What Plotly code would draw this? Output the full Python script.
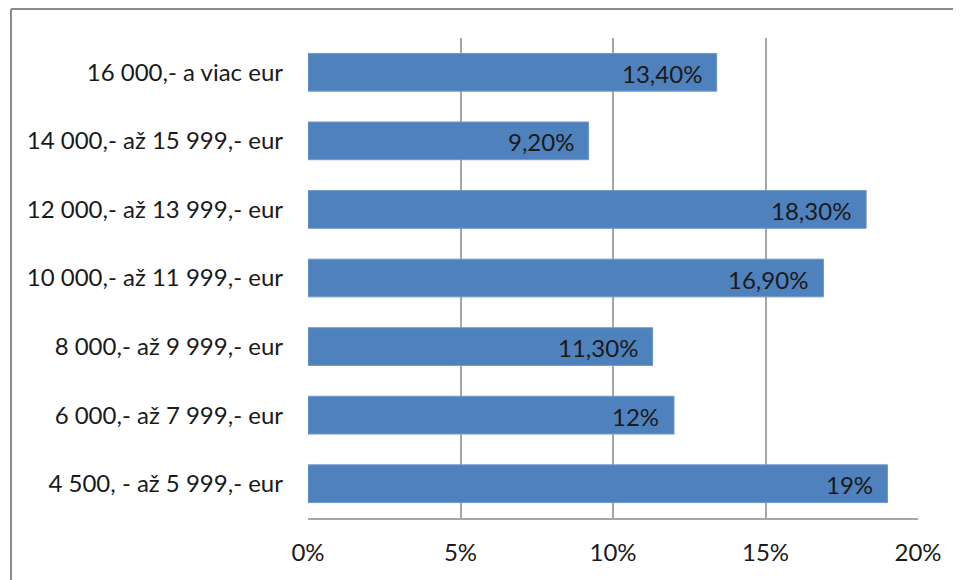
import plotly.graph_objects as go

categories = [
    "4 500, - až 5 999,- eur",
    "6 000,- až 7 999,- eur",
    "8 000,- až 9 999,- eur",
    "10 000,- až 11 999,- eur",
    "12 000,- až 13 999,- eur",
    "14 000,- až 15 999,- eur",
    "16 000,- a viac eur",
]
values = [19.0, 12.0, 11.3, 16.9, 18.3, 9.2, 13.4]
value_labels = ["19%", "12%", "11,30%", "16,90%", "18,30%", "9,20%", "13,40%"]
x_ticks = [0, 5, 10, 15, 20]
x_tick_labels = ["0%", "5%", "10%", "15%", "20%"]

FONT = "Lato"
FS = 24
OFF = 8  # page body margin
W, H = 961 - OFF, 580 - OFF
L, T = 308 - OFF, 38 - OFF
R = W - (918 - OFF)
B = H - (518 - OFF)

fig = go.Figure()
fig.add_trace(go.Bar(
    x=values, y=categories, orientation="h",
    marker=dict(color="#4F81BD", line=dict(color="#6C98CC", width=1)),
    hoverinfo="skip",
))

for v, c, lab in zip(values, categories, value_labels):
    fig.add_annotation(x=v, y=c, text=lab, showarrow=False,
                       xanchor="right", yanchor="middle", xshift=-13, yshift=-1,
                       font=dict(family=FONT, size=FS, color="#1a1a1a"))

pw = W - L - R
ph = H - T - B
bx = (11 - OFF - L) / pw          # left edge of outer chart border
by = 1 + (T - (9 - OFF)) / ph     # top edge of outer chart border
border = dict(color="#8c8c8c", width=2)
fig.add_shape(type="line", xref="paper", yref="paper",
              x0=bx, x1=bx, y0=by, y1=-(B + 10) / ph, line=border, layer="below")
fig.add_shape(type="line", xref="paper", yref="paper",
              x0=bx, x1=1 + (R + 10) / pw, y0=by, y1=by, line=border, layer="below")

fig.update_layout(
    width=W, height=H,
    margin=dict(l=L, r=R, t=T, b=B, pad=0),
    paper_bgcolor="white", plot_bgcolor="white",
    bargap=0.45, showlegend=False,
    font=dict(family=FONT, size=FS, color="#1a1a1a"),
    xaxis=dict(range=[0, 20], tickvals=x_ticks, ticktext=x_tick_labels,
               showgrid=True, gridcolor="#A6A6A6", gridwidth=1.5,
               showline=True, linecolor="#A6A6A6", linewidth=1.5,
               zeroline=False, ticks="", ticklabelstandoff=12,
               tickfont=dict(family=FONT, size=FS, color="#1a1a1a"),
               fixedrange=True),
    yaxis=dict(showgrid=False, showline=False, zeroline=False, ticks="",
               ticklabelstandoff=24,
               tickfont=dict(family=FONT, size=FS, color="#1a1a1a"),
               fixedrange=True),
)

fig.write_html("out.html", config={"displayModeBar": False})
